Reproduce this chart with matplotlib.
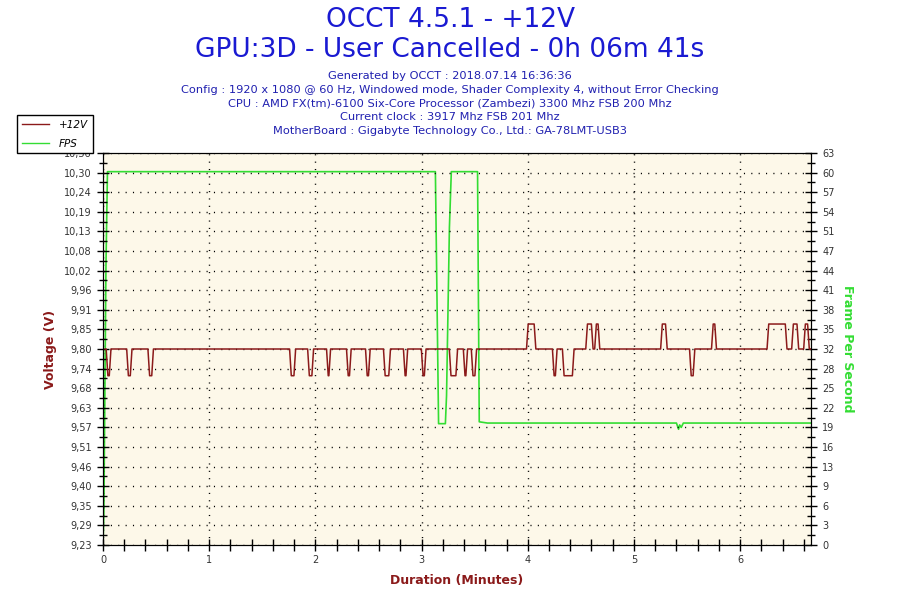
import matplotlib
matplotlib.use("Agg")
import matplotlib.pyplot as plt
import numpy as np

# axis labels as printed by OCCT
volt_labels = ["9,23", "9,29", "9,35", "9,40", "9,46", "9,51", "9,57", "9,63", "9,68", "9,74",
               "9,80", "9,85", "9,91", "9,96", "10,02", "10,08", "10,13", "10,19", "10,24",
               "10,30", "10,36"]
fps_labels = ["0", "3", "6", "9", "13", "16", "19", "22", "25", "28", "32", "35", "38", "41",
              "44", "47", "51", "54", "57", "60", "63"]

# +12V trace: base level with short dips / peaks (minutes)
v_start, v_end = 0.02, 6.667
v_base, v_low, v_high = 9.795, 9.718, 9.867
dip_start = [0.030, 0.223, 0.423, 1.757, 1.927, 2.105, 2.293, 2.472, 2.641, 2.829, 2.998,
             3.261, 3.393, 3.468, 4.232, 4.326, 5.523]
dip_end = [0.075, 0.273, 0.475, 1.814, 1.983, 2.143, 2.337, 2.516, 2.707, 2.869, 3.042,
           3.339, 3.433, 3.518, 4.276, 4.436, 5.573]
peak_start = [3.988, 4.546, 4.630, 5.251, 5.730, 6.253, 6.485, 6.598]
peak_end = [4.076, 4.615, 4.678, 5.313, 5.777, 6.441, 6.551, 6.651]

# FPS trace
fps_t = [0.000, 0.008, 0.028, 0.042, 3.130, 3.160, 3.224, 3.235, 3.262, 3.280, 3.527, 3.543,
         3.620, 5.400, 5.420, 5.430, 5.445, 5.465, 6.667]
fps_v = [0.0, 5.0, 45.0, 60.0, 60.0, 19.5, 19.5, 24.0, 51.0, 60.0, 60.0, 19.8,
         19.6, 19.6, 18.6, 19.3, 18.9, 19.6, 19.6]

ramp = 0.016
events = sorted([(s, e, v_low) for s, e in zip(dip_start, dip_end)] +
                [(s, e, v_high) for s, e in zip(peak_start, peak_end)])
vt, vv = [v_start], [v_base]
for s, e, lvl in events:
    vt += [s, s + ramp, e - ramp, e]
    vv += [v_base, lvl, lvl, v_base]
vt.append(v_end)
vv.append(v_base)

red = "#8b1a1a"
green = "#33dd33"
blue = "#1a1ad2"

fig = plt.figure(figsize=(9, 6), dpi=100)
ax = fig.add_axes([103 / 900, 1 - 545 / 600, 708 / 900, 392 / 600])
ax2 = ax.twinx()

ymin, ymax = 9.23, 10.36
xmax = 6.667
ax.set_xlim(0, xmax)
ax.set_ylim(ymin, ymax)
ax2.set_ylim(0, 63)

vpos = np.linspace(ymin, ymax, 21)
ax.set_yticks(vpos)
ax.set_yticklabels(volt_labels)
ax.set_yticks((vpos[:-1] + vpos[1:]) / 2, minor=True)
fpos = np.linspace(0, 63, 21)
ax2.set_yticks(fpos)
ax2.set_yticklabels(fps_labels)
ax2.set_yticks((fpos[:-1] + fpos[1:]) / 2, minor=True)
ax.set_xticks(range(0, 7))
ax.set_xticks(np.arange(0, xmax, 0.2), minor=True)

for a in (ax, ax2):
    a.tick_params(which="major", direction="inout", length=9, width=1, colors="black",
                  labelsize=7, labelcolor="#333333")
    a.tick_params(which="minor", direction="inout", length=6, width=1, colors="black")
ax.tick_params(axis="x", which="both", length=8)

ax.grid(True, which="major", color="black", linestyle=(0, (0.8, 4.5)), linewidth=1)

ax2.plot(fps_t, fps_v, color=green, linewidth=1.2)
ax.plot(vt, vv, color=red, linewidth=1.1)
ax.set_zorder(ax2.get_zorder() + 1)
ax.patch.set_visible(False)
ax2.patch.set_visible(True)
ax2.patch.set_facecolor("#fdf8e9")

ax.set_ylabel("Voltage (V)", color=red, fontsize=9, fontweight="bold", labelpad=5)
ax2.set_ylabel("Frame Per Second", color=green, fontsize=9, fontweight="bold",
               rotation=-90, labelpad=14)
ax.set_xlabel("Duration (Minutes)", color=red, fontsize=9, fontweight="bold", labelpad=6)

fig.text(0.5, 1 - 20 / 600, "OCCT 4.5.1 - +12V", ha="center", va="center",
         fontsize=19, color=blue)
fig.text(0.5, 1 - 50 / 600, "GPU:3D - User Cancelled - 0h 06m 41s", ha="center",
         va="center", fontsize=19, color=blue)
info = ["Generated by OCCT : 2018.07.14 16:36:36",
        "Config : 1920 x 1080 @ 60 Hz, Windowed mode, Shader Complexity 4, without Error Checking",
        "CPU : AMD FX(tm)-6100 Six-Core Processor (Zambezi) 3300 Mhz FSB 200 Mhz",
        "Current clock : 3917 Mhz FSB 201 Mhz",
        "MotherBoard : Gigabyte Technology Co., Ltd.: GA-78LMT-USB3"]
for i, line in enumerate(info):
    fig.text(0.5, 1 - (76 + i * 13.8) / 600, line, ha="center", va="center",
             fontsize=8.2, color="#2020b0")

h1, = ax.plot([], [], color=red, linewidth=1)
h2, = ax.plot([], [], color=green, linewidth=1)
leg = fig.legend([h1, h2], ["+12V", "FPS"], loc="upper left",
                 bbox_to_anchor=(17 / 900, 1 - 115 / 600), fancybox=False,
                 edgecolor="black", framealpha=1, fontsize=7.5, handlelength=2.6,
                 borderpad=0.45, labelspacing=0.85, handletextpad=1.0, borderaxespad=0)
for t in leg.get_texts():
    t.set_fontstyle("italic")
leg.get_frame().set_linewidth(1)

fig.savefig("out.png", dpi=100)
